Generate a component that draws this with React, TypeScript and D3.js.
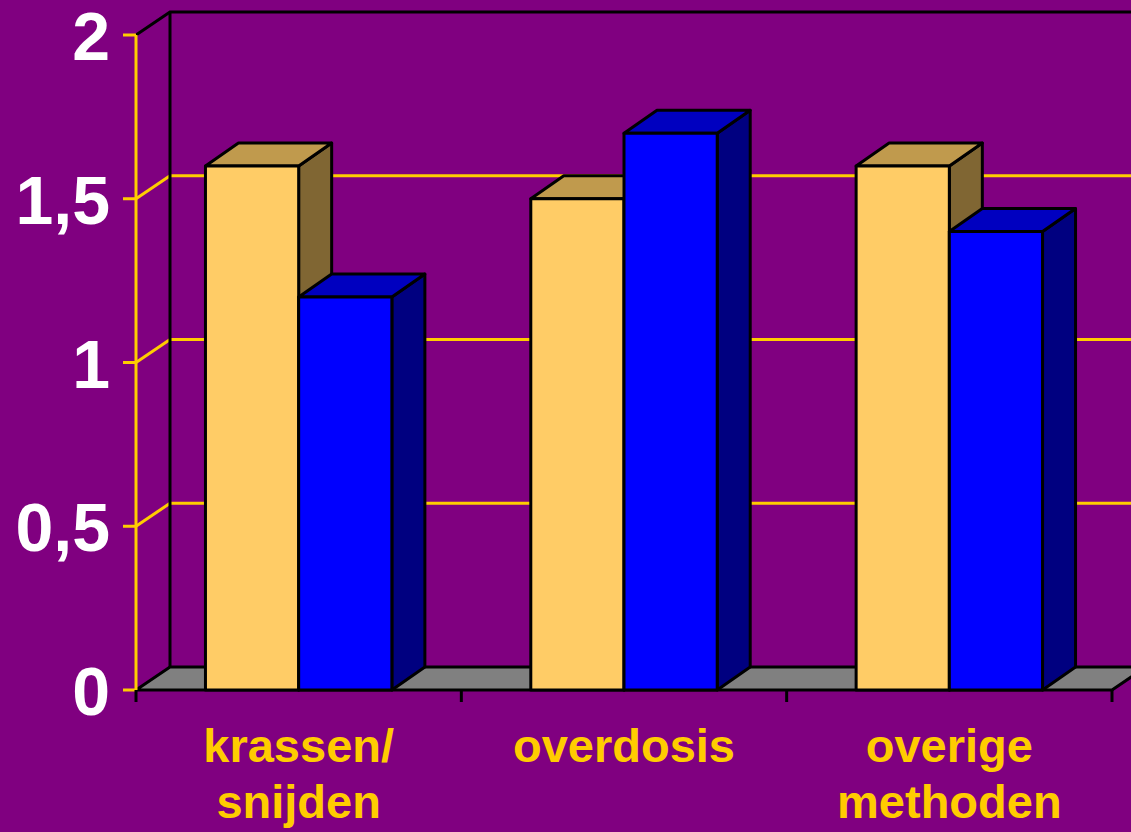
import React from "react";
import * as d3 from "d3";

const categories = ["krassen/\nsnijden", "overdosis", "overige\nmethoden"];
const seriesNames = ["A", "B"];
const seriesA = [1.6, 1.5, 1.6];
const seriesB = [1.2, 1.7, 1.4];
const yTicks = [0, 0.5, 1, 1.5, 2];
const yTickLabels = ["0", "0,5", "1", "1,5", "2"];

const W = 1131;
const H = 832;
const DX = 34;
const DY = -23;
const BDX = 33;
const BDY = -23;

const faceColors = [
  { front: "#FFCC66", top: "#C09A4D", side: "#806633" },
  { front: "#0000FF", top: "#0000C0", side: "#000080" },
];

export default function App() {
  const x0 = 136;
  const x1 = 1112;
  const y = d3.scaleLinear().domain([0, 2]).range([690, 35]);
  const xBand = d3
    .scaleBand<string>()
    .domain(categories)
    .range([x0, x1])
    .paddingInner(0.427)
    .paddingOuter(0.2135);
  const xSeries = d3
    .scaleBand<string>()
    .domain(seriesNames)
    .range([0, xBand.bandwidth()]);
  const values = [seriesA, seriesB];
  const y0 = y(0);
  const yTop = y(2);
  const floorPts = [
    [x0, y0],
    [x0 + DX, y0 + DY],
    [x1 + DX, y0 + DY],
    [x1, y0],
  ];
  const tickXs = [x0, ...categories.map((c) => (xBand(c) as number) + xBand.bandwidth() / 2 + xBand.step() / 2)];
  const font = "'Liberation Sans', Arial, sans-serif";

  return (
    <svg
      width={W}
      height={H}
      style={{ position: "absolute", left: 0, top: 0, background: "#800080" }}
    >
      <rect x={0} y={0} width={W} height={H} fill="#800080" />
      {/* back wall gridlines */}
      {yTicks.slice(1, -1).map((t) => (
        <g key={"g" + t}>
          <line x1={x0 + DX} x2={W + 20} y1={y(t) + DY} y2={y(t) + DY} stroke="#FFCC00" strokeWidth={3} />
          <line x1={x0} x2={x0 + DX} y1={y(t)} y2={y(t) + DY} stroke="#FFCC00" strokeWidth={3} />
        </g>
      ))}
      {/* back wall frame */}
      <polyline
        points={`${x0},${yTop} ${x0 + DX},${yTop + DY} ${W + 20},${yTop + DY}`}
        fill="none"
        stroke="#000"
        strokeWidth={3}
      />
      <line x1={x0 + DX} x2={x0 + DX} y1={yTop + DY} y2={y0 + DY} stroke="#000" strokeWidth={3} />
      {/* floor */}
      <polygon points={floorPts.map((p) => p.join(",")).join(" ")} fill="#808080" stroke="#000" strokeWidth={3} strokeLinejoin="round" />
      {/* front y axis */}
      <line x1={x0} x2={x0} y1={yTop} y2={y0} stroke="#FFCC00" strokeWidth={3} />
      {yTicks.map((t, i) => (
        <g key={"t" + t}>
          <line x1={x0 - 13} x2={x0} y1={y(t)} y2={y(t)} stroke="#FFCC00" strokeWidth={3} />
          <text
            x={110}
            y={y(t) + 25}
            textAnchor="end"
            fill="#FFFFFF"
            fontFamily={font}
            fontWeight="bold"
            fontSize={68}
          >
            {yTickLabels[i]}
          </text>
        </g>
      ))}
      {/* category ticks */}
      {tickXs.map((tx, i) => (
        <line key={"ct" + i} x1={tx} x2={tx} y1={y0} y2={y0 + 12} stroke="#000" strokeWidth={3} />
      ))}
      {/* bars */}
      {categories.map((c, ci) =>
        seriesNames.map((s, si) => {
          const bx = (xBand(c) as number) + (xSeries(s) as number);
          const bw = xSeries.bandwidth();
          const by = y(values[si][ci]);
          const col = faceColors[si];
          const top = `${bx},${by} ${bx + BDX},${by + BDY} ${bx + bw + BDX},${by + BDY} ${bx + bw},${by}`;
          const side = `${bx + bw},${by} ${bx + bw + BDX},${by + BDY} ${bx + bw + BDX},${y0 + BDY} ${bx + bw},${y0}`;
          return (
            <g key={c + s} stroke="#000" strokeWidth={3} strokeLinejoin="round">
              <polygon points={side} fill={col.side} />
              <polygon points={top} fill={col.top} />
              <rect x={bx} y={by} width={bw} height={y0 - by} fill={col.front} />
            </g>
          );
        })
      )}
      {/* category labels */}
      {categories.map((c) => {
        const cx = (xBand(c) as number) + xBand.bandwidth() / 2;
        const lines = c.split("\n");
        return (
          <text
            key={"l" + c}
            textAnchor="middle"
            fill="#FFCC00"
            fontFamily={font}
            fontWeight="bold"
            fontSize={47}
          >
            {lines.map((ln, li) => (
              <tspan key={li} x={cx} y={762 + li * 56}>
                {ln}
              </tspan>
            ))}
          </text>
        );
      })}
    </svg>
  );
}
